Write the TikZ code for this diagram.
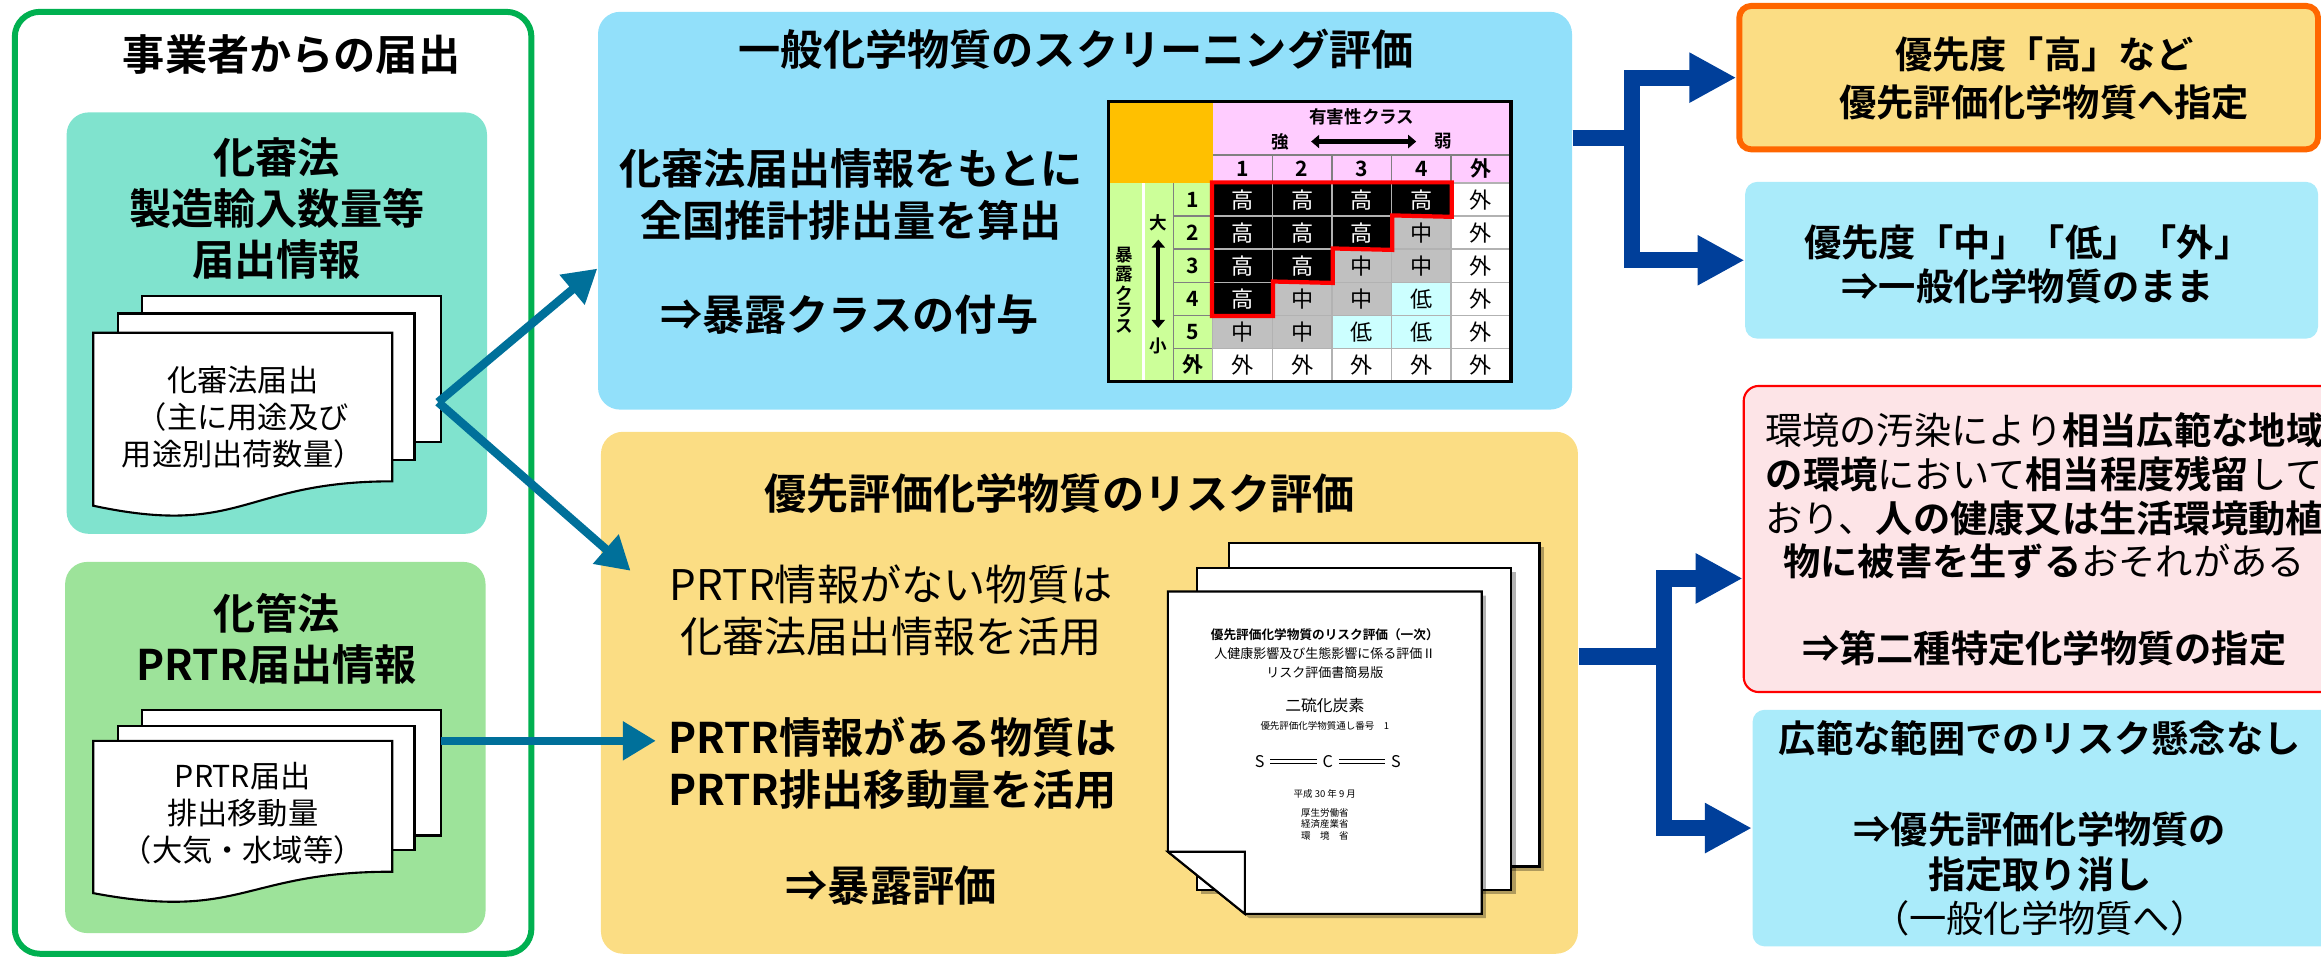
\documentclass[tikz,border=0pt]{standalone}
\usepackage{fontspec}
\setmainfont{Noto Sans CJK JP}[BoldFont=* Bold]
\usetikzlibrary{arrows.meta,calc,fit,shadows}

\definecolor{outergreen}{HTML}{00B050}
\definecolor{kashinfill}{HTML}{80E3CE}
\definecolor{kakanfill}{HTML}{9DE39A}
\definecolor{screenfill}{HTML}{92E0FA}
\definecolor{riskfill}{HTML}{FBDD84}
\definecolor{palefill}{HTML}{AAEBFA}
\definecolor{pinkfill}{HTML}{FDE4E7}
\definecolor{orangeline}{HTML}{FF6600}
\definecolor{feedblue}{HTML}{00709A}
\definecolor{forkblue}{HTML}{003F9A}
\definecolor{hdrpink}{HTML}{FFCCFF}
\definecolor{sidegreen}{HTML}{CCFF99}
\definecolor{cornerorange}{HTML}{FFC000}
\definecolor{lowcyan}{HTML}{CCFFFF}
\definecolor{midgray}{HTML}{C0C0C0}

\begin{document}
\begin{tikzpicture}[x=0.0148cm, y=-0.01479cm,
    panel/.style={inner sep=0pt, rounded corners=0.22cm},
    heading/.style={align=center, font=\fontsize{12}{14.4}\selectfont\bfseries},
    plain/.style={align=center, font=\fontsize{12}{14.8}\selectfont},
    result/.style={align=center, font=\fontsize{10.6}{12.6}\selectfont\bfseries},
    slip/.style={align=center, font=\fontsize{8.6}{10.5}\selectfont},
    sheet/.style={draw=black, line width=0.6pt, fill=white},
    shadowed/.style={drop shadow={shadow xshift=1.2pt, shadow yshift=-1.2pt, fill=black, opacity=0.3}},
    feed/.style={draw=feedblue, line width=2.4pt, -{Triangle[length=0.33cm, width=0.37cm]}},
    fork/.style={draw=forkblue, line width=4.6pt},
    forktip/.style={fork, {Triangle[length=0.47cm, width=0.47cm]}-{Triangle[length=0.47cm, width=0.47cm]}},
    tbl/.style={font=\fontsize{5}{4.5}\selectfont\bfseries, inner sep=1pt, align=center},
    both/.style={line width=1.2pt, {Triangle[length=0.08cm, width=0.13cm]}-{Triangle[length=0.08cm, width=0.13cm]}},
    cover/.style={align=center, inner sep=0pt, font=\fontsize{3.7}{4}\selectfont}]

\useasboundingbox (0,0) rectangle (1568,647);
\clip (0,0) rectangle (1568,647);

% notifications from business operators
\node[fit={(10,8) (359,645)}, panel, draw=outergreen, line width=1.7pt, rounded corners=0.25cm] (jigyo) {};
\node[heading] (jigyotitle) at (197,37) {事業者からの届出};

\node[fit={(45,76) (329,361)}, panel, fill=kashinfill] (kashin) {};
\node[heading] (kashintitle) at (187,141) {化審法\\製造輸入数量等\\届出情報};
\draw[sheet] (96,200) rectangle (298,299);
\draw[sheet] (80,212) rectangle (280,311);
\draw[sheet] (63,225) -- (265,225) -- (265,325.5) .. controls (164,325.5) and (164,363.7) .. (63,342) -- cycle;
\node[slip] (kashindoc) at (164,282) {化審法届出\\（主に用途及び\\用途別出荷数量）};

\node[fit={(44,380) (328,631)}, panel, fill=kakanfill] (kakan) {};
\node[heading] (kakantitle) at (187,432) {化管法\\PRTR届出情報};
\draw[sheet] (96,480) rectangle (298,565);
\draw[sheet] (80,491) rectangle (280,575);
\draw[sheet] (63,501) -- (265,501) -- (265,589.5) .. controls (164,589.5) and (164,623) .. (63,604) -- cycle;
\node[slip] (prtrdoc) at (164,550) {PRTR届出\\排出移動量\\（大気・水域等）};

% screening of general chemical substances
\node[fit={(404,8) (1062,277)}, panel, fill=screenfill] (screen) {};
\node[heading] (screentitle) at (727,33) {一般化学物質のスクリーニング評価};
\node[heading, font=\fontsize{12}{14.8}\selectfont\bfseries] (screencalc) at (575,131.5) {化審法届出情報をもとに\\全国推計排出量を算出};
\node[heading] (screenclass) at (574,213) {⇒暴露クラスの付与};

% priority matrix
\fill[cornerorange] (748.8,68.7) rectangle (819.3,123.8);
\fill[hdrpink] (819.3,68.7) rectangle (1020.6,123.8);
\fill[sidegreen] (748.8,123.8) rectangle (819.3,257.9);
\draw[white, line width=0.8pt] (772.4,123.8) -- (772.4,257.9);
\draw[gray, line width=0.4pt] (792.7,123.8) -- (792.7,257.9);
\draw[gray, line width=0.4pt] (819.3,104.7) -- (1020.6,104.7);
\foreach \h [count=\c] in {1,2,3,4,外} {
  \node[tbl, font=\fontsize{6}{6}\selectfont\bfseries] (h-\c) at ({819.3+40.26*(\c-0.5)},114.2) {\h};
  \draw[gray, line width=0.4pt] ({819.3+40.26*\c},104.7) -- ++(0,19.1);
}
\foreach \e [count=\r] in {1,2,3,4,5,外} {
  \node[tbl, font=\fontsize{6}{6}\selectfont\bfseries] (e-\r) at (806,{123.8+22.35*(\r-0.5)}) {\e};
  \draw[gray, line width=0.4pt] (792.7,{123.8+22.35*\r}) -- ++(26.6,0);
}
\foreach \row [count=\r] in {
    {black/white/高,black/white/高,black/white/高,black/white/高,white/black/外},
    {black/white/高,black/white/高,black/white/高,midgray/black/中,white/black/外},
    {black/white/高,black/white/高,midgray/black/中,midgray/black/中,white/black/外},
    {black/white/高,midgray/black/中,midgray/black/中,lowcyan/black/低,white/black/外},
    {midgray/black/中,midgray/black/中,lowcyan/black/低,lowcyan/black/低,white/black/外},
    {white/black/外,white/black/外,white/black/外,white/black/外,white/black/外}}
  \foreach \bg/\fg/\v [count=\c] in \row
    \node[draw=gray!60, line width=0.4pt, fill=\bg, text=\fg, inner sep=0pt,
          minimum width=0.5958cm, minimum height=0.3306cm, font=\fontsize{6.3}{6.3}\selectfont]
      (m-\r-\c) at ({819.3+40.26*(\c-0.5)},{123.8+22.35*(\r-0.5)}) {\v};
\draw[red, line width=1.2pt, line join=miter] (m-1-1.north west) -- (m-1-4.north east) -- (m-1-4.south east)
  -- (m-2-3.north east) -- (m-2-3.south east) -- (m-3-2.north east) -- (m-3-2.south east)
  -- (m-4-1.north east) -- (m-4-1.south east) -- (m-4-1.south west) -- cycle;
\draw[line width=1pt] (748.8,68.7) rectangle (1020.6,257.9);

\node[tbl] (hazard) at (920,78.8) {有害性クラス};
\node[tbl] (strong) at (864.8,95.7) {強};
\node[tbl] (weak) at (975,95.7) {弱};
\draw[both, shorten <=0.18cm, shorten >=0.14cm] (strong) -- (weak);
\node[tbl] (exlarge) at (782.5,150.9) {大};
\node[tbl] (exsmall) at (782.5,234.2) {小};
\draw[both, shorten <=0.04cm, shorten >=0.06cm] (exlarge) -- (exsmall);
\node[tbl] (exposurelabel) at (759.5,196) {暴\\露\\ク\\ラ\\ス};

% risk assessment of priority substances
\node[fit={(406,292) (1066,645)}, panel, fill=riskfill] (risk) {};
\node[heading] (risktitle) at (716,334) {優先評価化学物質のリスク評価};
\node[plain] (nodata) at (602,412.5) {PRTR情報がない物質は\\化審法届出情報を活用};
\node[heading, font=\fontsize{12}{14.8}\selectfont\bfseries] (hasdata) at (603,516.5) {PRTR情報がある物質は\\PRTR排出移動量を活用};
\node[heading] (exposure) at (602,599) {⇒暴露評価};

\draw[sheet, shadowed] (830,367) rectangle (1040,586);
\draw[sheet, shadowed] (808.5,384) rectangle (1021,602);
\draw[sheet, shadowed] (789,400) -- (1001,400) -- (1001,618) -- (841,618) -- (789,576) -- cycle;
\draw[sheet] (789,576) -- (841,576) -- (841,618) -- cycle;
\node[cover, font=\fontsize{3.6}{4}\selectfont\bfseries] (cv1) at (895,429) {優先評価化学物質のリスク評価（一次）};
\node[cover] (cv2) at (895,442) {人健康影響及び生態影響に係る評価Ⅱ};
\node[cover] (cv3) at (895,454.5) {リスク評価書簡易版};
\node[cover, font=\fontsize{4.5}{5}\selectfont] (cv4) at (895,477) {二硫化炭素};
\node[cover, font=\fontsize{2.7}{3}\selectfont] (cv5) at (895,491) {優先評価化学物質通し番号　1};
\node[cover, inner sep=1.5pt, font=\fontsize{4.6}{5}\selectfont] (sl) at (851,515) {S};
\node[cover, inner sep=1.5pt, font=\fontsize{4.6}{5}\selectfont] (cc) at (897,515) {C};
\node[cover, inner sep=1.5pt, font=\fontsize{4.6}{5}\selectfont] (sr) at (943,515) {S};
\draw[double, double distance=0.9pt, line width=0.3pt] (sl) -- (cc);
\draw[double, double distance=0.9pt, line width=0.3pt] (cc) -- (sr);
\node[cover, font=\fontsize{2.7}{3}\selectfont] (cv6) at (895,537) {平成 30 年 9 月};
\node[cover, font=\fontsize{2.7}{3.4}\selectfont] (cv7) at (895,557.5) {厚生労働省\\経済産業省\\環　境　省};

% outcomes
\node[fit={(1175,4) (1566,101)}, panel, fill=riskfill, draw=orangeline, line width=1.7pt, rounded corners=0.12cm] (high) {};
\node[result, font=\fontsize{10.6}{13.5}\selectfont\bfseries] (hightext) at (1381,53) {優先度「高」など\\優先評価化学物質へ指定};
\node[fit={(1179,123) (1566,229)}, panel, fill=palefill, rounded corners=0.12cm] (keep) {};
\node[result] (keeptext) at (1370,179) {優先度「中」「低」「外」\\⇒一般化学物質のまま};

\node[fit={(1178,261) (1590,468)}, panel, fill=pinkfill, draw=red, line width=0.6pt, rounded corners=0.15cm] (second) {};
\node[result, font=\fontsize{10.6}{12.4}\selectfont] (secondtext) at (1381,365)
  {環境の汚染により\textbf{相当広範な地域}\\\textbf{の環境}において\textbf{相当程度残留}して\\おり、\textbf{人の健康又は生活環境動植}\\\textbf{物に被害を生ずる}おそれがある\\[12.4pt]\textbf{⇒第二種特定化学物質の指定}};
\node[fit={(1184,480) (1590,640)}, panel, fill=palefill, rounded corners=0.12cm] (cancel) {};
\node[result] (canceltitle) at (1378,499) {広範な範囲でのリスク懸念なし};
\node[result] (canceltext) at (1378,591) {⇒優先評価化学物質の\\指定取り消し\\{\mdseries （一般化学物質へ）}};

% connectors
\coordinate (kashinout) at (296,272);
\coordinate (prtrout) at (298,501);
\coordinate (riskin) at (426,386);
\draw[feed] (kashinout) -- ($(screen.north west)!0.645!(screen.south west)$);
\draw[feed] (kashinout) -- (riskin);
\draw[feed] (prtrout) -- (hasdata.west |- prtrout);

\coordinate (fork1) at (1102.5,93.5);
\draw[forktip, line join=miter] (high.west) -| (fork1) |- (keep.west);
\draw[fork] (screen.east |- fork1) -- (fork1);
\coordinate (fork2) at (1124,444);
\draw[forktip, line join=miter] ($(second.north west)!0.628!(second.south west)$) -| (fork2) |- (cancel.west);
\draw[fork] (risk.east |- fork2) -- (fork2);
\end{tikzpicture}
\end{document}
